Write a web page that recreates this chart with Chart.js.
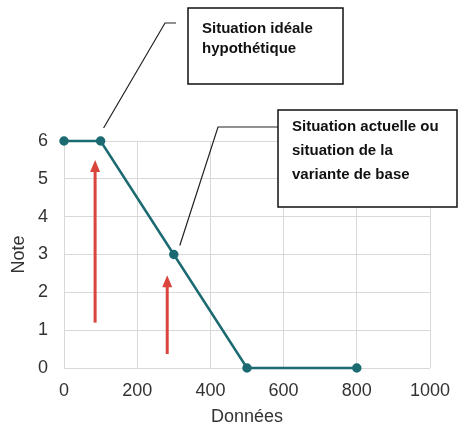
<!DOCTYPE html>
<html>
<head>
<meta charset="utf-8">
<script src="https://cdn.jsdelivr.net/npm/chart.js@4/dist/chart.umd.min.js"></script>
<style>
  html, body { margin: 0; padding: 0; background: #fff; }
  #wrap { width: 459px; height: 428px; }
</style>
</head>
<body>
<div id="wrap"><canvas id="noteChart" width="459" height="428"></canvas></div>
<script>
// data
const donnees = [0, 100, 300, 500, 800];
const notes = [6, 6, 3, 0, 0];
const xTicks = [0, 200, 400, 600, 800, 1000];
const yTicks = [0, 1, 2, 3, 4, 5, 6];

// red arrows: [x, yFrom, yTo] in data units
const arrows = [
  [85, 1.2, 5.5],
  [282, 0.37, 2.45]
];

// annotation boxes
const boxLabels = [
  ['Situation idéale', 'hypothétique'],
  ['Situation actuelle ou', 'situation de la', 'variante de base']
];

const teal = '#1b6a72';
const red = '#d9443c';

// Draw boxes, leader lines and arrows
const annotations = {
  id: 'annotations',
  afterDatasetsDraw(chart) {
    const c = chart.ctx;
    const xs = chart.scales.x, ys = chart.scales.y;
    c.save();

    // leader lines
    c.strokeStyle = '#222';
    c.lineWidth = 1.2;
    c.beginPath();
    c.moveTo(xs.getPixelForValue(donnees[1]) + 3, ys.getPixelForValue(notes[1]) - 13);
    c.lineTo(165, 23);
    c.lineTo(176, 23);
    c.stroke();
    c.beginPath();
    c.moveTo(xs.getPixelForValue(donnees[2]) + 6, ys.getPixelForValue(notes[2]) - 9);
    c.lineTo(218, 127);
    c.lineTo(278, 127);
    c.stroke();

    // arrows
    c.strokeStyle = red;
    c.fillStyle = red;
    c.lineWidth = 3;
    arrows.forEach(a => {
      const x = xs.getPixelForValue(a[0]);
      const y0 = ys.getPixelForValue(a[1]);
      const y1 = ys.getPixelForValue(a[2]);
      c.beginPath();
      c.moveTo(x, y0);
      c.lineTo(x, y1 + 10);
      c.stroke();
      c.beginPath();
      c.moveTo(x, y1);
      c.lineTo(x - 5, y1 + 12);
      c.lineTo(x + 5, y1 + 12);
      c.closePath();
      c.fill();
    });

    // boxes
    const boxes = [
      { x: 188, y: 8, w: 155, h: 76, tx: 202, ty: 33, lh: 20 },
      { x: 278, y: 110, w: 179, h: 97, tx: 292, ty: 131, lh: 24 }
    ];
    boxes.forEach((b, i) => {
      c.fillStyle = '#fff';
      c.fillRect(b.x, b.y, b.w, b.h);
      c.strokeStyle = '#111';
      c.lineWidth = 1.5;
      c.strokeRect(b.x, b.y, b.w, b.h);
      c.fillStyle = '#111';
      c.font = 'bold 15px "Liberation Sans", Arial, sans-serif';
      c.textBaseline = 'alphabetic';
      boxLabels[i].forEach((t, j) => c.fillText(t, b.tx, b.ty + j * b.lh));
    });
    c.restore();
  }
};

const ctx = document.getElementById('noteChart').getContext('2d');
const noteChart = new Chart(ctx, {
  type: 'scatter',
  data: {
    datasets: [{
      data: donnees.map((d, i) => ({ x: d, y: notes[i] })),
      showLine: true,
      clip: false,
      borderColor: teal,
      backgroundColor: teal,
      borderWidth: 2.5,
      pointRadius: 3.5,
      pointHoverRadius: 3.5
    }]
  },
  options: {
    responsive: false,
    animation: false,
    layout: { padding: { top: 141, right: 29, left: 8, bottom: 0 } },
    plugins: {
      legend: { display: false },
      tooltip: { enabled: false }
    },
    scales: {
      x: {
        type: 'linear',
        min: 0,
        max: 1000,
        afterBuildTicks: s => { s.ticks = xTicks.map(v => ({ value: v })); },
        ticks: {
          color: '#333',
          font: { size: 18, family: '"Liberation Sans", Arial, sans-serif' },
          padding: 12,
          callback: v => String(v)
        },
        grid: { color: '#d9d9d9', drawTicks: false },
        border: { display: false },
        title: {
          display: true,
          text: 'Données',
          color: '#333',
          font: { size: 18, family: '"Liberation Sans", Arial, sans-serif' },
          padding: { top: 6, bottom: 0 }
        },
        afterFit: s => { s.height = 60; s.paddingLeft = 0; s.paddingRight = 0; }
      },
      y: {
        min: 0,
        max: 6,
        afterBuildTicks: s => { s.ticks = yTicks.map(v => ({ value: v })); },
        ticks: {
          color: '#333',
          font: { size: 18, family: '"Liberation Sans", Arial, sans-serif' },
          padding: 16
        },
        grid: { color: '#d9d9d9', drawTicks: false },
        border: { display: false },
        title: {
          display: true,
          text: 'Note',
          color: '#333',
          font: { size: 18, family: '"Liberation Sans", Arial, sans-serif' },
          padding: { top: 0, bottom: 4 }
        },
        afterFit: s => { s.width = 56; s.paddingTop = 0; s.paddingBottom = 0; }
      }
    }
  },
  plugins: [annotations]
});
</script>
</body>
</html>
